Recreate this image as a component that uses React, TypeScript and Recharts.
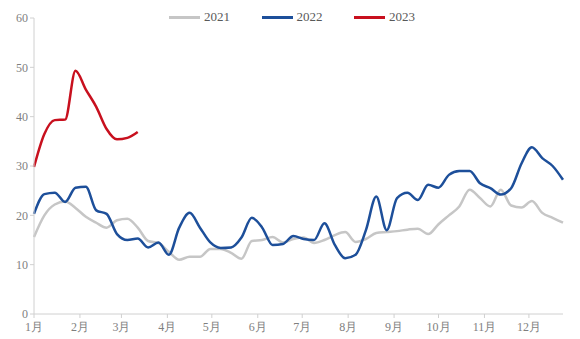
import React from "react";
import { LineChart, Line, XAxis, YAxis } from "recharts";

const monthLabels = ["1月", "2月", "3月", "4月", "5月", "6月", "7月", "8月", "9月", "10月", "11月", "12月"];
const monthStartDays = [0, 31, 59, 90, 120, 151, 181, 212, 243, 273, 304, 334];
const yTicks = [0, 10, 20, 30, 40, 50, 60];

const s2021 = [
  15.6, 20, 22.2, 22.8, 21.5, 19.7, 18.5, 17.5, 19, 19.3, 17.5, 14.8, 14.4, 12.6, 11, 11.6, 11.6, 13.2, 13.2, 12.4,
  11.2, 14.8, 15, 15.6, 14.5, 15.2, 15.5, 14.4, 15, 16, 16.6, 14.6, 15.2, 16.4, 16.6, 16.8, 17.1, 17.3, 16.2, 18.2,
  20, 21.8, 25.2, 23.5, 21.8, 25.2, 22, 21.6, 22.9, 20.5, 19.5, 18.5,
];
const s2022 = [
  20.3, 24.3, 24.6, 22.7, 25.6, 25.8, 21, 20.3, 16.2, 15, 15.3, 13.5, 14.5, 12, 17.5, 20.5, 17.5, 14.5, 13.4, 13.5,
  15.5, 19.5, 17.5, 14, 14.2, 15.8, 15.2, 15, 18.4, 14, 11.3, 12, 17, 23.8, 17, 23.5, 24.6, 23.1, 26.2, 25.6,
  28.2, 29, 29, 26.5, 25.5, 24.2, 25.5, 30.5, 33.8, 31.6, 30, 27.2,
];
const s2023 = [29.8, 36.5, 39.3, 39.4, 49.3, 45.5, 42, 37.5, 35.4, 35.7, 36.9];

const series = [
  { key: "2021", values: s2021, color: "#c6c6c6" },
  { key: "2022", values: s2022, color: "#1d4f9a" },
  { key: "2023", values: s2023, color: "#c8101e" },
];

const data = s2021.map((_, i) => {
  const row: Record<string, number | undefined> = { day: i * 7 };
  series.forEach((s) => {
    row[s.key] = s.values[i];
  });
  return row;
});

const fmtMonth = (v: number) => {
  const idx = monthStartDays.indexOf(v);
  return idx >= 0 ? monthLabels[idx] : "";
};

const serif = "'Liberation Serif', 'Times New Roman', serif";

export default function App() {
  return (
    <div style={{ position: "relative", width: 580, height: 339, background: "#fff" }}>
      <style>{`body{margin:0}`}</style>
      <LineChart width={580} height={339} data={data} margin={{ top: 18, right: 17, bottom: 5, left: 4 }}>
        <XAxis
          dataKey="day"
          type="number"
          domain={[0, 357]}
          ticks={monthStartDays}
          tickFormatter={fmtMonth}
          interval={0}
          stroke="#d0d0d0"
          tickSize={4}
          tickMargin={4}
          height={20}
          tick={{ fill: "#7f7f7f", fontSize: 12, fontFamily: serif }}
        />
        <YAxis
          domain={[0, 60]}
          ticks={yTicks}
          interval={0}
          width={30}
          stroke="#d0d0d0"
          tickSize={4}
          tickMargin={2}
          tick={{ fill: "#7f7f7f", fontSize: 12, fontFamily: serif }}
        />
        {series.map((s) => (
          <Line
            key={s.key}
            dataKey={s.key}
            type="monotone"
            stroke={s.color}
            strokeWidth={2.5}
            dot={false}
            activeDot={false}
            isAnimationActive={false}
          />
        ))}
      </LineChart>
      <div
        style={{
          position: "absolute",
          left: 169,
          top: 9,
          display: "flex",
          fontFamily: serif,
          fontSize: 13,
          lineHeight: "16px",
          color: "#595959",
        }}
      >
        {series.map((s) => (
          <div key={s.key} style={{ display: "flex", alignItems: "center", width: 92.5 }}>
            <span style={{ display: "inline-block", width: 31, height: 3, background: s.color, marginRight: 4 }} />
            <span>{s.key}</span>
          </div>
        ))}
      </div>
    </div>
  );
}
